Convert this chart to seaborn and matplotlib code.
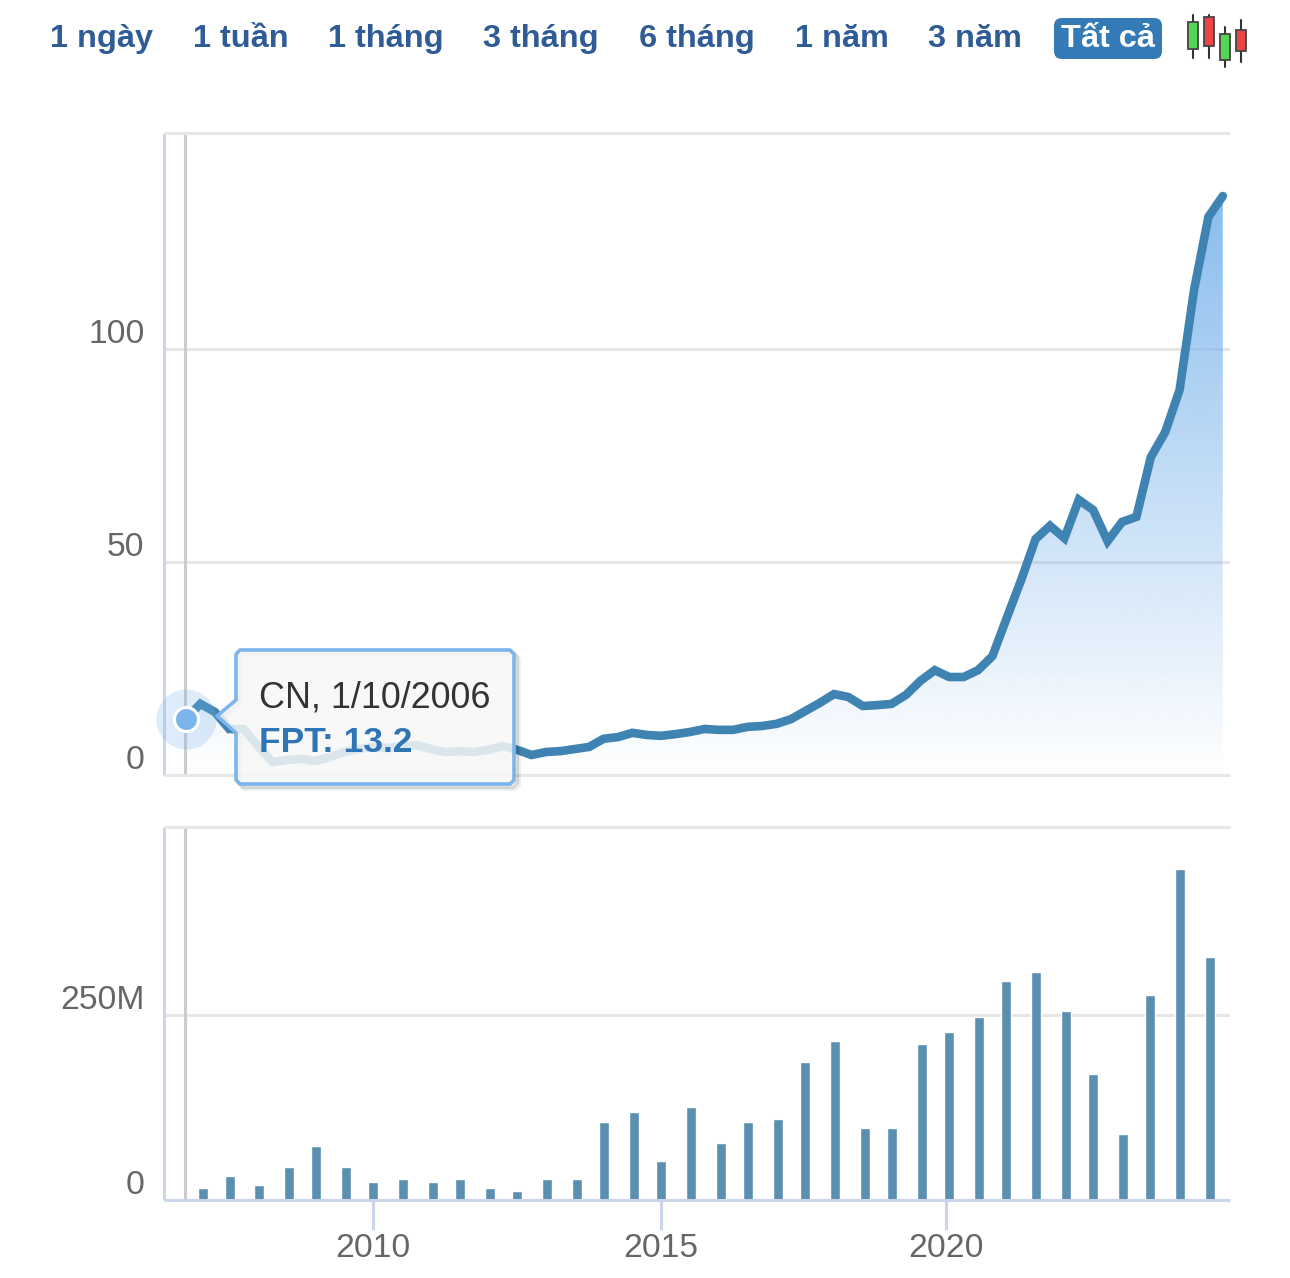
import numpy as np
import seaborn as sns
from matplotlib import pyplot as plt
from matplotlib.patches import FancyBboxPatch, Polygon, Rectangle
from matplotlib.transforms import ScaledTranslation

sns.set_style('white')
plt.rcParams['font.family'] = ['Liberation Sans', 'DejaVu Sans']

# gia theo quy
price_years = [2006.75, 2007.0, 2007.25, 2007.5, 2007.75, 2008.0, 2008.25, 2008.5, 2008.75, 2009.0,
               2009.25, 2009.5, 2009.75, 2010.0, 2010.25, 2010.5, 2010.75, 2011.0, 2011.25, 2011.5,
               2011.75, 2012.0, 2012.25, 2012.5, 2012.75, 2013.0, 2013.25, 2013.5, 2013.75, 2014.0,
               2014.25, 2014.5, 2014.75, 2015.0, 2015.25, 2015.5, 2015.75, 2016.0, 2016.25, 2016.5,
               2016.75, 2017.0, 2017.25, 2017.5, 2017.75, 2018.0, 2018.25, 2018.5, 2018.75, 2019.0,
               2019.25, 2019.5, 2019.75, 2020.0, 2020.25, 2020.5, 2020.75, 2021.0, 2021.25, 2021.5,
               2021.75, 2022.0, 2022.25, 2022.5, 2022.75, 2023.0, 2023.25, 2023.5, 2023.75, 2024.0,
               2024.25, 2024.5, 2024.75]
prices = [13.2, 16.7, 14.8, 10.8, 10.8, 6.8, 3.05, 3.5, 3.75, 3.3,
          4.2, 5.4, 6.1, 6.6, 6.3, 6.8, 7.0, 6.1, 5.4, 5.6,
          5.4, 5.9, 6.8, 5.9, 4.7, 5.4, 5.6, 6.1, 6.6, 8.5,
          8.9, 9.9, 9.4, 9.2, 9.6, 10.1, 10.8, 10.6, 10.6, 11.3,
          11.5, 12.0, 13.1, 15.0, 16.9, 19.0, 18.3, 16.2, 16.4, 16.7,
          18.8, 22.1, 24.6, 23.0, 23.0, 24.6, 27.9, 36.9, 45.8, 55.4,
          58.5, 55.6, 64.6, 62.2, 54.9, 59.4, 60.6, 74.6, 80.5, 90.4,
          113.8, 131.0, 135.9]

# khoi luong, trieu co phieu
volume_years = [2007.045, 2007.514, 2008.017, 2008.538, 2009.007, 2009.528, 2009.997, 2010.517, 2011.038,
                2011.507, 2012.028, 2012.497, 2013.017, 2013.538, 2014.007, 2014.528, 2014.997, 2015.517,
                2016.038, 2016.507, 2017.028, 2017.497, 2018.017, 2018.538, 2019.007, 2019.528, 2019.997,
                2020.517, 2020.986, 2021.507, 2022.028, 2022.497, 2023.017, 2023.486, 2024.007, 2024.528]
volumes = [16, 32, 20, 45, 73, 45, 24, 28, 24, 28, 16, 12, 28, 28, 105, 118, 53, 126,
           77, 105, 109, 186, 215, 97, 97, 211, 227, 247, 296, 308, 255, 170, 89, 276, 446, 328]

price_ticks = [0, 50, 100]
price_labels = ['0', '50', '100']
volume_ticks = [0, 250]
volume_labels = ['0', '250M']
year_ticks = [2010, 2015, 2019.94]
year_labels = ['2010', '2015', '2020']
range_labels = ['1 ngày', '1 tuần', '1 tháng', '3 tháng', '6 tháng', '1 năm', '3 năm', 'Tất cả']
tooltip_date = 'CN, 1/10/2006'
tooltip_value = 'FPT: 13.2'

W, H = 1290, 1278
GRID = '#e6e6e6'
AXIS = '#ccd6eb'
CROSS = '#cccccc'
AREA = '#7cb5ec'
LINE = '#3f83b3'
BAR = '#5a8fb0'
XMIN, XMAX = 2006.368, 2024.875
CROSS_X = 2006.73


def panel(top, bottom):
    return fig.add_axes([164 / W, 1 - bottom / H, (1230 - 164) / W, (bottom - top) / H])


def style_y(ax, ticks, labels, lift):
    ax.set_yticks(ticks)
    ax.set_yticklabels(labels)
    ax.grid(axis='y', color=GRID, linewidth=2.2)
    ax.grid(axis='x', visible=False)
    ax.set_axisbelow(True)
    ax.tick_params(axis='y', length=0, pad=14, labelsize=24.2, labelcolor='#666666')
    for lab in ax.get_yticklabels():
        lab.set_va('baseline')
        lab.set_transform(lab.get_transform() + ScaledTranslation(0, lift / 100, fig.dpi_scale_trans))
    ax.spines['top'].set_color(GRID)
    ax.spines['left'].set_color(AXIS)
    ax.spines['right'].set_visible(False)
    for s in ['top', 'left', 'bottom']:
        ax.spines[s].set_linewidth(2.2)
        ax.spines[s].set_capstyle('butt')
    ax.axvline(CROSS_X, color=CROSS, linewidth=2.2, zorder=1.5)
    ax.set_xlim(XMIN, XMAX)


fig = plt.figure(figsize=(W / 100, H / 100), dpi=100, facecolor='white')

# gia
ax1 = panel(133, 775)
ax1.set_ylim(0, 150.7)
style_y(ax1, price_ticks, price_labels, 6)
ax1.spines['bottom'].set_color(GRID)
ax1.set_xticks([])

# vung to mau chuyen dan
poly = ax1.fill_between(price_years, prices, 0, color='none')
top_val = max(prices)
grad = np.zeros((256, 1, 4))
grad[:, :, :3] = plt.matplotlib.colors.to_rgb(AREA)
grad[:, 0, 3] = np.linspace(0.9, 0.0, 256)
img = ax1.imshow(grad, extent=[price_years[0], price_years[-1], 0, top_val], aspect='auto', origin='upper', zorder=2)
img.set_clip_path(poly.get_paths()[0], transform=ax1.transData)
ax1.set_xlim(XMIN, XMAX)
ax1.set_ylim(0, 150.7)

sns.lineplot(x=price_years, y=prices, color=LINE, linewidth=6.2, solid_capstyle='round',
             solid_joinstyle='miter', errorbar=None, ax=ax1, zorder=3)
ax1.scatter(price_years[:1], prices[:1], s=1870, color=AREA, alpha=0.25, linewidths=0, clip_on=False, zorder=4)
ax1.scatter(price_years[:1], prices[:1], s=300, color=AREA, edgecolors='white', linewidths=2.2, clip_on=False, zorder=5)
ax1.set_xlabel('')
ax1.set_ylabel('')

# khoi luong
ax2 = panel(827, 1200)
sns.barplot(x=volume_years, y=volumes, native_scale=True, width=0.38, color=BAR, saturation=1,
            errorbar=None, ax=ax2, zorder=2)
ax2.set_ylim(0, 503)
style_y(ax2, volume_ticks, volume_labels, 6)
ax2.spines['bottom'].set_color(AXIS)
ax2.set_xticks(year_ticks)
ax2.set_xticklabels(year_labels)
ax2.tick_params(axis='x', bottom=True, length=21.6, width=2.2, color=AXIS, pad=2.5, labelsize=24.2, labelcolor='#666666')
ax2.set_xlabel('')
ax2.set_ylabel('')

# lop phu theo pixel: nut bam, icon, tooltip
ov = fig.add_axes([0, 0, 1, 1], facecolor='none')
ov.set_xlim(0, W)
ov.set_ylim(H, 0)
ov.axis('off')

centers = [101.5, 240.5, 385.5, 541, 697, 841.5, 974.5, 1108]
ov.add_patch(FancyBboxPatch((1059, 23), 98, 31, boxstyle='round,pad=5,rounding_size=8', facecolor='#337ab7', edgecolor='none'))
for c, t in zip(centers, range_labels):
    ov.text(c, 47, t, ha='center', va='baseline', fontsize=23.4, fontweight='bold',
            color='white' if t == 'Tất cả' else '#2f5c96')

candles = [(1193, 15, 58, 22, 49, '#55d655'), (1209, 15, 58, 17, 46, '#ef4444'),
           (1225, 27, 67, 34, 60, '#55d655'), (1241, 20, 62, 30, 51, '#ef4444')]
for x, w0, w1, b0, b1, col in candles:
    ov.plot([x, x], [w0, w1], color='#333333', linewidth=1.5)
    ov.add_patch(Rectangle((x - 5, b0), 10, b1 - b0, facecolor=col, edgecolor='#444444', linewidth=1.3, zorder=3))

tip = [(240, 650), (510, 650), (514, 654), (514, 780), (510, 784), (240, 784), (236, 780),
       (236, 733), (217, 716), (236, 700), (236, 654)]
for off, a in [(5, 0.06), (3, 0.12)]:
    ov.add_patch(Polygon([(x + off, y + off) for x, y in tip], closed=True, facecolor='none',
                         edgecolor='black', alpha=a, linewidth=3, joinstyle='round'))
ov.add_patch(Polygon(tip, closed=True, facecolor=(0.97, 0.97, 0.97, 0.85), edgecolor=AREA,
                     linewidth=2.6, joinstyle='round', zorder=3))
ov.text(259, 708, tooltip_date, ha='left', va='baseline', fontsize=25.8, color='#333333', zorder=4)
ov.text(259, 752, tooltip_value, ha='left', va='baseline', fontsize=25.5, fontweight='bold', color='#2f75b5', zorder=4)

fig.savefig('out.png', dpi=100)
